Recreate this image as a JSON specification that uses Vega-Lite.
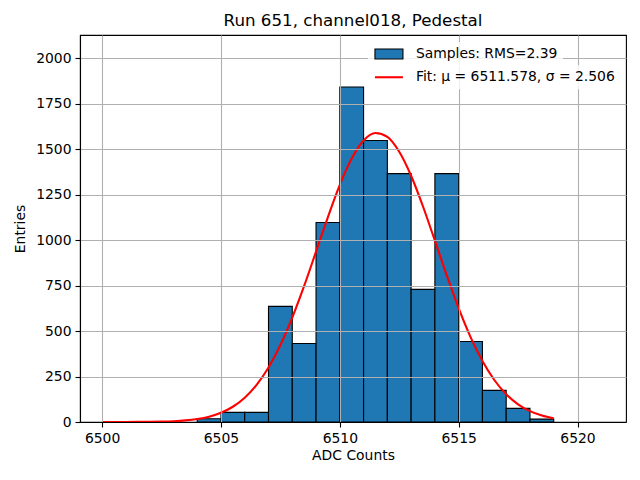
{
  "$schema": "https://vega.github.io/schema/vega-lite/v6.json",
  "width": 546,
  "height": 387,
  "autosize": {"type": "none"},
  "padding": {"left": 80, "top": 35, "right": 14, "bottom": 58},
  "background": "white",
  "title": {
    "text": "Run 651, channel018, Pedestal",
    "font": "DejaVu Sans",
    "fontSize": 16.7,
    "fontWeight": "normal",
    "color": "black",
    "anchor": "middle",
    "offset": 5
  },
  "config": {
    "view": {"stroke": "black", "strokeWidth": 1.1},
    "axis": {
      "labelFont": "DejaVu Sans",
      "labelFontSize": 13.9,
      "labelColor": "black",
      "titleFont": "DejaVu Sans",
      "titleFontSize": 13.9,
      "titleFontWeight": "normal",
      "titleColor": "black",
      "domainColor": "black",
      "domainWidth": 1.1,
      "tickColor": "black",
      "tickWidth": 1.1,
      "tickSize": 5,
      "labelPadding": 4,
      "gridColor": "#b0b0b0",
      "gridWidth": 1.1,
      "gridOpacity": 1
    },
    "legend": {
      "labelFont": "DejaVu Sans",
      "labelFontSize": 13.9,
      "labelColor": "black",
      "labelLimit": 400,
      "symbolSize": 100,
      "labelOffset": 29,
      "padding": 5,
      "fillColor": "rgba(255,255,255,0.8)",
      "symbolOpacity": 1
    }
  },
  "layer": [
    {
      "data": {
        "values": [
          {"bin_start": 6504, "bin_end": 6505, "count": 18, "series": "Samples: RMS=2.39"},
          {"bin_start": 6505, "bin_end": 6506, "count": 53, "series": "Samples: RMS=2.39"},
          {"bin_start": 6506, "bin_end": 6507, "count": 53, "series": "Samples: RMS=2.39"},
          {"bin_start": 6507, "bin_end": 6508, "count": 636, "series": "Samples: RMS=2.39"},
          {"bin_start": 6508, "bin_end": 6509, "count": 432, "series": "Samples: RMS=2.39"},
          {"bin_start": 6509, "bin_end": 6510, "count": 1097, "series": "Samples: RMS=2.39"},
          {"bin_start": 6510, "bin_end": 6511, "count": 1842, "series": "Samples: RMS=2.39"},
          {"bin_start": 6511, "bin_end": 6512, "count": 1548, "series": "Samples: RMS=2.39"},
          {"bin_start": 6512, "bin_end": 6513, "count": 1366, "series": "Samples: RMS=2.39"},
          {"bin_start": 6513, "bin_end": 6514, "count": 729, "series": "Samples: RMS=2.39"},
          {"bin_start": 6514, "bin_end": 6515, "count": 1366, "series": "Samples: RMS=2.39"},
          {"bin_start": 6515, "bin_end": 6516, "count": 443, "series": "Samples: RMS=2.39"},
          {"bin_start": 6516, "bin_end": 6517, "count": 174, "series": "Samples: RMS=2.39"},
          {"bin_start": 6517, "bin_end": 6518, "count": 75, "series": "Samples: RMS=2.39"},
          {"bin_start": 6518, "bin_end": 6519, "count": 16, "series": "Samples: RMS=2.39"}
        ]
      },
      "mark": {"type": "bar", "stroke": "black", "strokeWidth": 1.1, "opacity": 1},
      "encoding": {
        "x": {
          "field": "bin_start",
          "type": "quantitative",
          "scale": {"domain": [6499.07, 6522.04], "nice": false, "zero": false},
          "axis": {
            "title": "ADC Counts",
            "values": [6500, 6505, 6510, 6515, 6520],
            "format": "d",
            "grid": true,
            "zindex": 1,
            "titlePadding": 4
          }
        },
        "x2": {"field": "bin_end"},
        "y": {
          "field": "count",
          "type": "quantitative",
          "scale": {"domain": [0, 2128], "nice": false},
          "axis": {
            "title": "Entries",
            "values": [0, 250, 500, 750, 1000, 1250, 1500, 1750, 2000],
            "format": "d",
            "grid": true,
            "zindex": 1,
            "titlePadding": 8
          }
        },
        "y2": {"datum": 0},
        "fill": {
          "field": "series",
          "type": "nominal",
          "scale": {"domain": ["Samples: RMS=2.39"], "range": ["#1f77b4"]},
          "legend": {
            "title": null,
            "orient": "none",
            "legendX": 288,
            "legendY": 7,
            "symbolType": "M-1,-1H4.6V1H-1Z",
            "symbolStrokeColor": "black",
            "symbolStrokeWidth": 1.1,
            "zindex": 2
          }
        }
      }
    },
    {
      "data": {
        "values": [
          {"x": 6500, "y": 0.04, "series": "Fit: μ = 6511.578, σ = 2.506"},
          {"x": 6500.5, "y": 0.09, "series": "Fit: μ = 6511.578, σ = 2.506"},
          {"x": 6501, "y": 0.21, "series": "Fit: μ = 6511.578, σ = 2.506"},
          {"x": 6501.5, "y": 0.49, "series": "Fit: μ = 6511.578, σ = 2.506"},
          {"x": 6502, "y": 1.07, "series": "Fit: μ = 6511.578, σ = 2.506"},
          {"x": 6502.5, "y": 2.25, "series": "Fit: μ = 6511.578, σ = 2.506"},
          {"x": 6503, "y": 4.54, "series": "Fit: μ = 6511.578, σ = 2.506"},
          {"x": 6503.5, "y": 8.81, "series": "Fit: μ = 6511.578, σ = 2.506"},
          {"x": 6504, "y": 16.4, "series": "Fit: μ = 6511.578, σ = 2.506"},
          {"x": 6504.5, "y": 29.4, "series": "Fit: μ = 6511.578, σ = 2.506"},
          {"x": 6505, "y": 50.7, "series": "Fit: μ = 6511.578, σ = 2.506"},
          {"x": 6505.5, "y": 83.9, "series": "Fit: μ = 6511.578, σ = 2.506"},
          {"x": 6506, "y": 133.5, "series": "Fit: μ = 6511.578, σ = 2.506"},
          {"x": 6506.5, "y": 204, "series": "Fit: μ = 6511.578, σ = 2.506"},
          {"x": 6507, "y": 299.7, "series": "Fit: μ = 6511.578, σ = 2.506"},
          {"x": 6507.5, "y": 423, "series": "Fit: μ = 6511.578, σ = 2.506"},
          {"x": 6508, "y": 574, "series": "Fit: μ = 6511.578, σ = 2.506"},
          {"x": 6508.5, "y": 748, "series": "Fit: μ = 6511.578, σ = 2.506"},
          {"x": 6509, "y": 937, "series": "Fit: μ = 6511.578, σ = 2.506"},
          {"x": 6509.5, "y": 1127, "series": "Fit: μ = 6511.578, σ = 2.506"},
          {"x": 6510, "y": 1304, "series": "Fit: μ = 6511.578, σ = 2.506"},
          {"x": 6510.5, "y": 1449, "series": "Fit: μ = 6511.578, σ = 2.506"},
          {"x": 6511, "y": 1548, "series": "Fit: μ = 6511.578, σ = 2.506"},
          {"x": 6511.5, "y": 1589, "series": "Fit: μ = 6511.578, σ = 2.506"},
          {"x": 6512, "y": 1568, "series": "Fit: μ = 6511.578, σ = 2.506"},
          {"x": 6512.5, "y": 1486, "series": "Fit: μ = 6511.578, σ = 2.506"},
          {"x": 6513, "y": 1354, "series": "Fit: μ = 6511.578, σ = 2.506"},
          {"x": 6513.5, "y": 1185, "series": "Fit: μ = 6511.578, σ = 2.506"},
          {"x": 6514, "y": 997, "series": "Fit: μ = 6511.578, σ = 2.506"},
          {"x": 6514.5, "y": 806, "series": "Fit: μ = 6511.578, σ = 2.506"},
          {"x": 6515, "y": 626, "series": "Fit: μ = 6511.578, σ = 2.506"},
          {"x": 6515.5, "y": 467, "series": "Fit: μ = 6511.578, σ = 2.506"},
          {"x": 6516, "y": 335, "series": "Fit: μ = 6511.578, σ = 2.506"},
          {"x": 6516.5, "y": 231, "series": "Fit: μ = 6511.578, σ = 2.506"},
          {"x": 6517, "y": 153, "series": "Fit: μ = 6511.578, σ = 2.506"},
          {"x": 6517.5, "y": 97.4, "series": "Fit: μ = 6511.578, σ = 2.506"},
          {"x": 6518, "y": 59.6, "series": "Fit: μ = 6511.578, σ = 2.506"},
          {"x": 6518.5, "y": 35.1, "series": "Fit: μ = 6511.578, σ = 2.506"},
          {"x": 6519, "y": 19.8, "series": "Fit: μ = 6511.578, σ = 2.506"}
        ]
      },
      "mark": {"type": "line", "strokeWidth": 2.1, "interpolate": "monotone"},
      "encoding": {
        "x": {"field": "x", "type": "quantitative"},
        "y": {"field": "y", "type": "quantitative"},
        "stroke": {
          "field": "series",
          "type": "nominal",
          "scale": {"domain": ["Fit: μ = 6511.578, σ = 2.506"], "range": ["#ff0000"]},
          "legend": {
            "title": null,
            "orient": "none",
            "legendX": 288,
            "legendY": 30.3,
            "symbolType": "M-1,0H4.6",
            "symbolStrokeWidth": 2.1,
            "zindex": 3
          }
        }
      }
    }
  ]
}
